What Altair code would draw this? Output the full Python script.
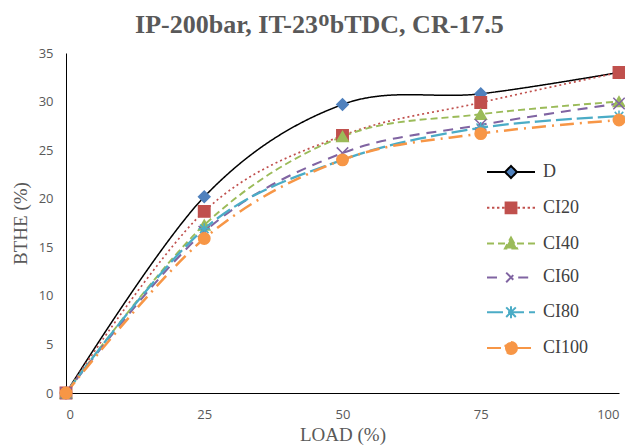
import altair as alt
import pandas as pd

load = [0, 25, 50, 75, 100]
series = ["D", "CI20", "CI40", "CI60", "CI80", "CI100"]
d_vals = [0, 20.2, 29.7, 30.8, 33.0]
ci20_vals = [0, 18.7, 26.5, 29.9, 33.0]
ci40_vals = [0, 17.3, 26.4, 28.7, 30.0]
ci60_vals = [0, 16.6, 24.7, 27.6, 29.8]
ci80_vals = [0, 16.9, 24.0, 27.3, 28.5]
ci100_vals = [0, 15.9, 24.0, 26.7, 28.1]

all_vals = [d_vals, ci20_vals, ci40_vals, ci60_vals, ci80_vals, ci100_vals]
rows = []
for s, vals in zip(series, all_vals):
    for l, v in zip(load, vals):
        rows.append({"series": s, "load": l, "bthe": v})
df = pd.DataFrame(rows)

line_colors = ["#000000", "#C0504D", "#9BBB59", "#8064A2", "#4BACC6", "#F79646"]
marker_colors = ["#4F81BD", "#C0504D", "#9BBB59", "#8064A2", "#4BACC6", "#F79646"]
dashes = [[1, 0], [2, 3], [7, 4], [10, 7], [16, 5], [14, 6, 2, 6]]
widths = [1.5, 2.5, 2.5, 2.5, 2.5, 2.5]

X_PATH = "M-1,-1L1,1M-1,1L1,-1"
STAR_PATH = "M-1,0L1,0M0,-1L0,1M-0.75,-0.75L0.75,0.75M-0.75,0.75L0.75,-0.75"
marker_shapes = ["diamond", "square", "triangle-up", X_PATH, STAR_PATH, "circle"]

DOTS = ("M-4,0L-3.6,0M-3.17,0L-2.77,0M-2.33,0L-1.93,0M-1.5,0L-1.1,0"
        "M1.1,0L1.5,0M1.93,0L2.33,0M2.77,0L3.17,0M3.6,0L4,0")
legend_shapes = [
    "M-4,0L-1,0M1,0L4,0M0,-1L1,0L0,1L-1,0Z",
    DOTS + "M-0.9,-0.9L0.9,-0.9L0.9,0.9L-0.9,0.9Z",
    "M-4,0L-1,0M1,0L4,0M0,-1L1,0.8L-1,0.8Z",
    "M-4,0L-1.2,0M1.2,0L4,0M-0.8,-0.8L0.8,0.8M-0.8,0.8L0.8,-0.8",
    "M-4,0L4,0M0,-1L0,1M-0.8,-0.8L0.8,0.8M-0.8,0.8L0.8,-0.8",
    "M-4,0L-1,0M1,0L4,0M1,0A1,1 0 1,1 -1,0A1,1 0 1,1 1,0Z",
]
legend_dashes = [[1, 0], [1, 0], [7, 4], [10, 7], [16, 5], [14, 6, 2, 6]]

x_enc = alt.X("load:Q", scale=alt.Scale(domain=[0, 100], nice=False),
              axis=alt.Axis(values=load, title="LOAD (%)", labelPadding=15,
                            titleY=47, titleBaseline="alphabetic"))
y_enc = alt.Y("bthe:Q", scale=alt.Scale(domain=[0, 35], nice=False),
              axis=alt.Axis(values=[0, 5, 10, 15, 20, 25, 30, 35], title="BTHE (%)",
                            labelPadding=13, titlePadding=8))

lines = alt.Chart(df).mark_line(interpolate="cardinal").encode(
    x=x_enc, y=y_enc,
    stroke=alt.Stroke("series:N", scale=alt.Scale(domain=series, range=line_colors), legend=None),
    strokeDash=alt.StrokeDash("series:N", scale=alt.Scale(domain=series, range=dashes), legend=None),
    strokeWidth=alt.StrokeWidth("series:N", scale=alt.Scale(domain=series, range=widths), legend=None),
    detail="series:N",
)

points = alt.Chart(df).mark_point(filled=True, size=130, strokeWidth=1.5, opacity=1).encode(
    x=x_enc, y=y_enc,
    fill=alt.Fill("series:N", scale=alt.Scale(domain=series, range=marker_colors), legend=None),
    stroke=alt.Stroke("series:N", scale=alt.Scale(domain=series, range=marker_colors), legend=None),
    shape=alt.Shape("series:N", scale=alt.Scale(domain=series, range=marker_shapes), legend=None),
)

leg = alt.Legend(title=None, orient="none", legendX=436, legendY=110,
                 labelFont="Liberation Serif", labelFontSize=18, labelColor="#404040",
                 symbolSize=144, symbolStrokeWidth=2, labelOffset=23, rowPadding=15.8,
                 padding=0)

legend_layer = alt.Chart(df).transform_filter("false").mark_point(filled=True, opacity=1).encode(
    x=x_enc, y=y_enc,
    fill=alt.Fill("series:N", scale=alt.Scale(domain=series, range=marker_colors), legend=leg),
    stroke=alt.Stroke("series:N", scale=alt.Scale(domain=series, range=line_colors), legend=leg),
    shape=alt.Shape("series:N", scale=alt.Scale(domain=series, range=legend_shapes), legend=leg),
    strokeDash=alt.StrokeDash("series:N", scale=alt.Scale(domain=series, range=legend_dashes), legend=leg),
)

chart = alt.layer(lines, points, legend_layer).resolve_scale(
    fill="independent", stroke="independent", shape="independent",
    strokeDash="independent", strokeWidth="independent"
).properties(
    width=553, height=340,
    autosize=alt.AutoSizeParams(type="none"),
    padding={"left": 58, "top": 45, "right": 6, "bottom": 52},
    title=alt.TitleParams("IP-200bar, IT-23ᴼbTDC, CR-17.5", font="Liberation Serif",
                          fontSize=26, fontWeight="bold", color="#595959",
                          anchor="middle", frame="bounds", baseline="alphabetic",
                          offset=20, dy=32),
).configure_view(stroke=None).configure_axis(
    domainColor="#000000", domainWidth=1, ticks=False, grid=False,
    labelFont="Open Sans", labelFontSize=13, labelColor="#595959",
    titleFont="Liberation Serif", titleFontSize=19, titleColor="#595959", titleFontWeight="normal",
)

chart.save("out.html", embed_options={"renderer": "svg", "actions": False})
